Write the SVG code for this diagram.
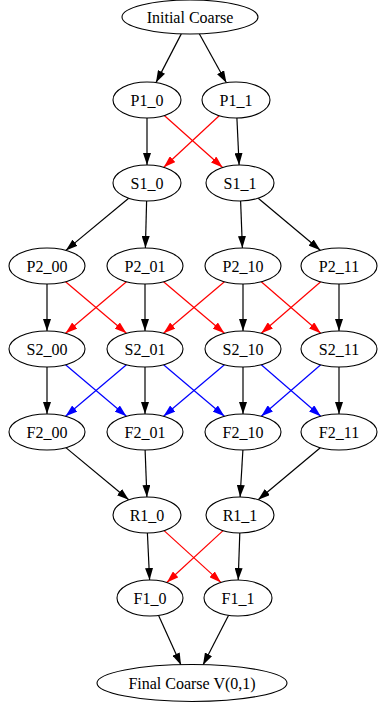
<svg xmlns="http://www.w3.org/2000/svg" width="378" height="704" viewBox="0 0 378 704">
<style>
.n ellipse{fill:#ffffff;stroke:#000000;stroke-width:1.1}
.n text{font-family:"Liberation Serif","Times New Roman",serif;font-size:16px;fill:#000000;text-anchor:middle}
.e line{stroke-width:1.2;fill:none}
.k{stroke:#000000;marker-end:url(#ak)}
.r{stroke:#ff0000;marker-end:url(#ar)}
.b{stroke:#0000ff;marker-end:url(#ab)}
</style>
<defs>
<marker id="ak" markerUnits="userSpaceOnUse" markerWidth="12" markerHeight="8" refX="12" refY="4" orient="auto"><path d="M0,0 L12,4 L0,8 z" fill="#000000"/></marker>
<marker id="ar" markerUnits="userSpaceOnUse" markerWidth="12" markerHeight="8" refX="12" refY="4" orient="auto"><path d="M0,0 L12,4 L0,8 z" fill="#ff0000"/></marker>
<marker id="ab" markerUnits="userSpaceOnUse" markerWidth="12" markerHeight="8" refX="12" refY="4" orient="auto"><path d="M0,0 L12,4 L0,8 z" fill="#0000ff"/></marker>
</defs>
<rect x="0" y="0" width="378" height="704" fill="#ffffff"/>
<g id="edges" class="e">
<line class="k" x1="181.3" y1="33.9" x2="156.0" y2="82.6"/>
<line class="k" x1="199.3" y1="33.8" x2="226.4" y2="82.7"/>
<line class="k" x1="147" y1="118" x2="147" y2="165"/>
<line class="r" x1="164.3" y1="115.5" x2="222.6" y2="167.5"/>
<line class="r" x1="219.2" y1="115.7" x2="163.8" y2="167.3"/>
<line class="k" x1="236.9" y1="118" x2="239.1" y2="165"/>
<line class="k" x1="128.7" y1="198.2" x2="65.8" y2="250.4"/>
<line class="k" x1="146.6" y1="201" x2="145.4" y2="248"/>
<line class="k" x1="240.6" y1="201" x2="242.4" y2="248"/>
<line class="k" x1="258.2" y1="198.2" x2="320.3" y2="250.3"/>
<line class="k" x1="47" y1="284" x2="47" y2="331"/>
<line class="k" x1="145" y1="284" x2="145" y2="331"/>
<line class="k" x1="243" y1="284" x2="243" y2="331"/>
<line class="k" x1="339" y1="284" x2="339" y2="331"/>
<line class="r" x1="65.55" y1="281.71" x2="126.45" y2="333.29"/>
<line class="r" x1="126.45" y1="281.71" x2="65.55" y2="333.29"/>
<line class="r" x1="163.55" y1="281.71" x2="224.45" y2="333.29"/>
<line class="r" x1="224.45" y1="281.71" x2="163.55" y2="333.29"/>
<line class="r" x1="261.26" y1="281.79" x2="320.74" y2="333.21"/>
<line class="r" x1="320.74" y1="281.79" x2="261.26" y2="333.21"/>
<line class="k" x1="47" y1="367" x2="47" y2="414"/>
<line class="k" x1="145" y1="367" x2="145" y2="414"/>
<line class="k" x1="243" y1="367" x2="243" y2="414"/>
<line class="k" x1="339" y1="367" x2="339" y2="414"/>
<line class="b" x1="65.55" y1="364.71" x2="126.45" y2="416.29"/>
<line class="b" x1="126.45" y1="364.71" x2="65.55" y2="416.29"/>
<line class="b" x1="163.55" y1="364.71" x2="224.45" y2="416.29"/>
<line class="b" x1="224.45" y1="364.71" x2="163.55" y2="416.29"/>
<line class="b" x1="261.26" y1="364.79" x2="320.74" y2="416.21"/>
<line class="b" x1="320.74" y1="364.79" x2="261.26" y2="416.21"/>
<line class="k" x1="65.84" y1="447.63" x2="128.72" y2="499.82"/>
<line class="k" x1="145.1" y1="450" x2="146.9" y2="497"/>
<line class="k" x1="242.9" y1="450" x2="240.1" y2="497"/>
<line class="k" x1="320.31" y1="447.67" x2="258.16" y2="499.78"/>
<line class="k" x1="147.4" y1="533" x2="149.6" y2="580"/>
<line class="r" x1="164.07" y1="530.57" x2="220.93" y2="582.43"/>
<line class="r" x1="223.07" y1="530.61" x2="166.8" y2="582.51"/>
<line class="k" x1="239.8" y1="533" x2="238.2" y2="580"/>
<line class="k" x1="158.6" y1="615.4" x2="181" y2="665"/>
<line class="k" x1="228.6" y1="615.3" x2="203" y2="665"/>
</g>
<g id="initial_coarse" class="n"><ellipse cx="190" cy="17" rx="68" ry="17"/><text x="190" y="22.5">Initial Coarse</text></g>
<g id="P1_0" class="n"><ellipse cx="147" cy="100" rx="34" ry="18"/><text x="147" y="105.5">P1_0</text></g>
<g id="P1_1" class="n"><ellipse cx="236" cy="100" rx="34" ry="18"/><text x="236" y="105.5">P1_1</text></g>
<g id="S1_0" class="n"><ellipse cx="147" cy="183" rx="34" ry="18"/><text x="147" y="188.5">S1_0</text></g>
<g id="S1_1" class="n"><ellipse cx="240" cy="183" rx="34" ry="18"/><text x="240" y="188.5">S1_1</text></g>
<g id="P2_00" class="n"><ellipse cx="47" cy="266" rx="38" ry="18"/><text x="47" y="271.5">P2_00</text></g>
<g id="P2_01" class="n"><ellipse cx="145" cy="266" rx="38" ry="18"/><text x="145" y="271.5">P2_01</text></g>
<g id="P2_10" class="n"><ellipse cx="243" cy="266" rx="38" ry="18"/><text x="243" y="271.5">P2_10</text></g>
<g id="P2_11" class="n"><ellipse cx="339" cy="266" rx="38" ry="18"/><text x="339" y="271.5">P2_11</text></g>
<g id="S2_00" class="n"><ellipse cx="47" cy="349" rx="38" ry="18"/><text x="47" y="354.5">S2_00</text></g>
<g id="S2_01" class="n"><ellipse cx="145" cy="349" rx="38" ry="18"/><text x="145" y="354.5">S2_01</text></g>
<g id="S2_10" class="n"><ellipse cx="243" cy="349" rx="38" ry="18"/><text x="243" y="354.5">S2_10</text></g>
<g id="S2_11" class="n"><ellipse cx="339" cy="349" rx="38" ry="18"/><text x="339" y="354.5">S2_11</text></g>
<g id="F2_00" class="n"><ellipse cx="47" cy="432" rx="38" ry="18"/><text x="47" y="437.5">F2_00</text></g>
<g id="F2_01" class="n"><ellipse cx="145" cy="432" rx="38" ry="18"/><text x="145" y="437.5">F2_01</text></g>
<g id="F2_10" class="n"><ellipse cx="243" cy="432" rx="38" ry="18"/><text x="243" y="437.5">F2_10</text></g>
<g id="F2_11" class="n"><ellipse cx="339" cy="432" rx="38" ry="18"/><text x="339" y="437.5">F2_11</text></g>
<g id="R1_0" class="n"><ellipse cx="147" cy="515" rx="34" ry="18"/><text x="147" y="520.5">R1_0</text></g>
<g id="R1_1" class="n"><ellipse cx="240" cy="515" rx="34" ry="18"/><text x="240" y="520.5">R1_1</text></g>
<g id="F1_0" class="n"><ellipse cx="150" cy="598" rx="33" ry="18"/><text x="150" y="603.5">F1_0</text></g>
<g id="F1_1" class="n"><ellipse cx="238" cy="598" rx="34" ry="18"/><text x="238" y="603.5">F1_1</text></g>
<g id="final_coarse" class="n"><ellipse cx="192" cy="683" rx="95" ry="18.5"/><text x="192" y="688.5">Final Coarse V(0,1)</text></g>
</svg>
